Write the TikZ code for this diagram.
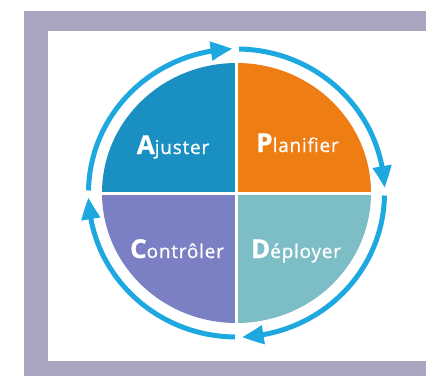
\documentclass[tikz,border=0pt]{standalone}
\usepackage{fontspec}
\setmainfont{Open Sans}
\usetikzlibrary{arrows.meta,bending}
\definecolor{lav}{HTML}{A9A6C1}
\definecolor{ringblue}{HTML}{1DA9E0}
\definecolor{qA}{HTML}{1A90C2}
\definecolor{qP}{HTML}{EE7D14}
\definecolor{qC}{HTML}{7B80C4}
\definecolor{qD}{HTML}{7DBEC6}
\tikzset{
  ring/.style={ringblue,line width=5pt,-{Triangle[length=22pt,width=18pt,bend]}},
  lbl/.style={text=white,anchor=base,inner sep=0pt,font=\fontsize{19}{21}\selectfont\addfontfeatures{LetterSpace=4,FakeBold=0.8}},
  gap/.style={white,line width=3pt}
}
\newcommand{\capl}[1]{{\fontsize{26}{27}\selectfont\bfseries #1}}
\begin{document}
\begin{tikzpicture}[x=1pt,y=1pt]
\useasboundingbox (0,0) rectangle (426,376);
\fill[white] (0,0) rectangle (426,376);
\fill[lav] (24,0) rectangle (426,365);
\fill[white] (48,15) rectangle (426,345);
\coordinate (c) at (236.5,183);
% quadrants
\fill[qA] (c) -- ++(180:134.5 and 130) arc[start angle=180,end angle=90,x radius=134.5,y radius=130] -- cycle;
\fill[qP] (c) -- ++(90:134.5 and 130) arc[start angle=90,end angle=0,x radius=134.5,y radius=130] -- cycle;
\fill[qD] (c) -- ++(0:134.5 and 130) arc[start angle=0,end angle=-90,x radius=134.5,y radius=130] -- cycle;
\fill[qC] (c) -- ++(-90:134.5 and 130) arc[start angle=-90,end angle=-180,x radius=134.5,y radius=130] -- cycle;
\draw[gap] (c) ++(0,132) -- ++(0,-264);
\draw[gap] (c) ++(-136,0) -- ++(272,0);
% ring arrows
\draw[ring] (c) ++(179:148 and 144) arc[start angle=179,end angle=91.5,x radius=148,y radius=144];
\draw[ring] (c) ++(89:148 and 144) arc[start angle=89,end angle=2,x radius=148,y radius=144];
\draw[ring] (c) ++(-1:148 and 144) arc[start angle=-1,end angle=-88,x radius=148,y radius=144];
\draw[ring] (c) ++(-90.6:148 and 144) arc[start angle=-90.6,end angle=-178.3,x radius=148,y radius=144];
% labels
\node[lbl] (a) at (173,222) {\capl{A}juster};
\node[lbl] (p) at (297.5,224) {\capl{P}lanifier};
\node[lbl] (k) at (177,118) {\capl{C}ontrôler};
\node[lbl] (d) at (296,118) {\capl{D}éployer};
\end{tikzpicture}
\end{document}
